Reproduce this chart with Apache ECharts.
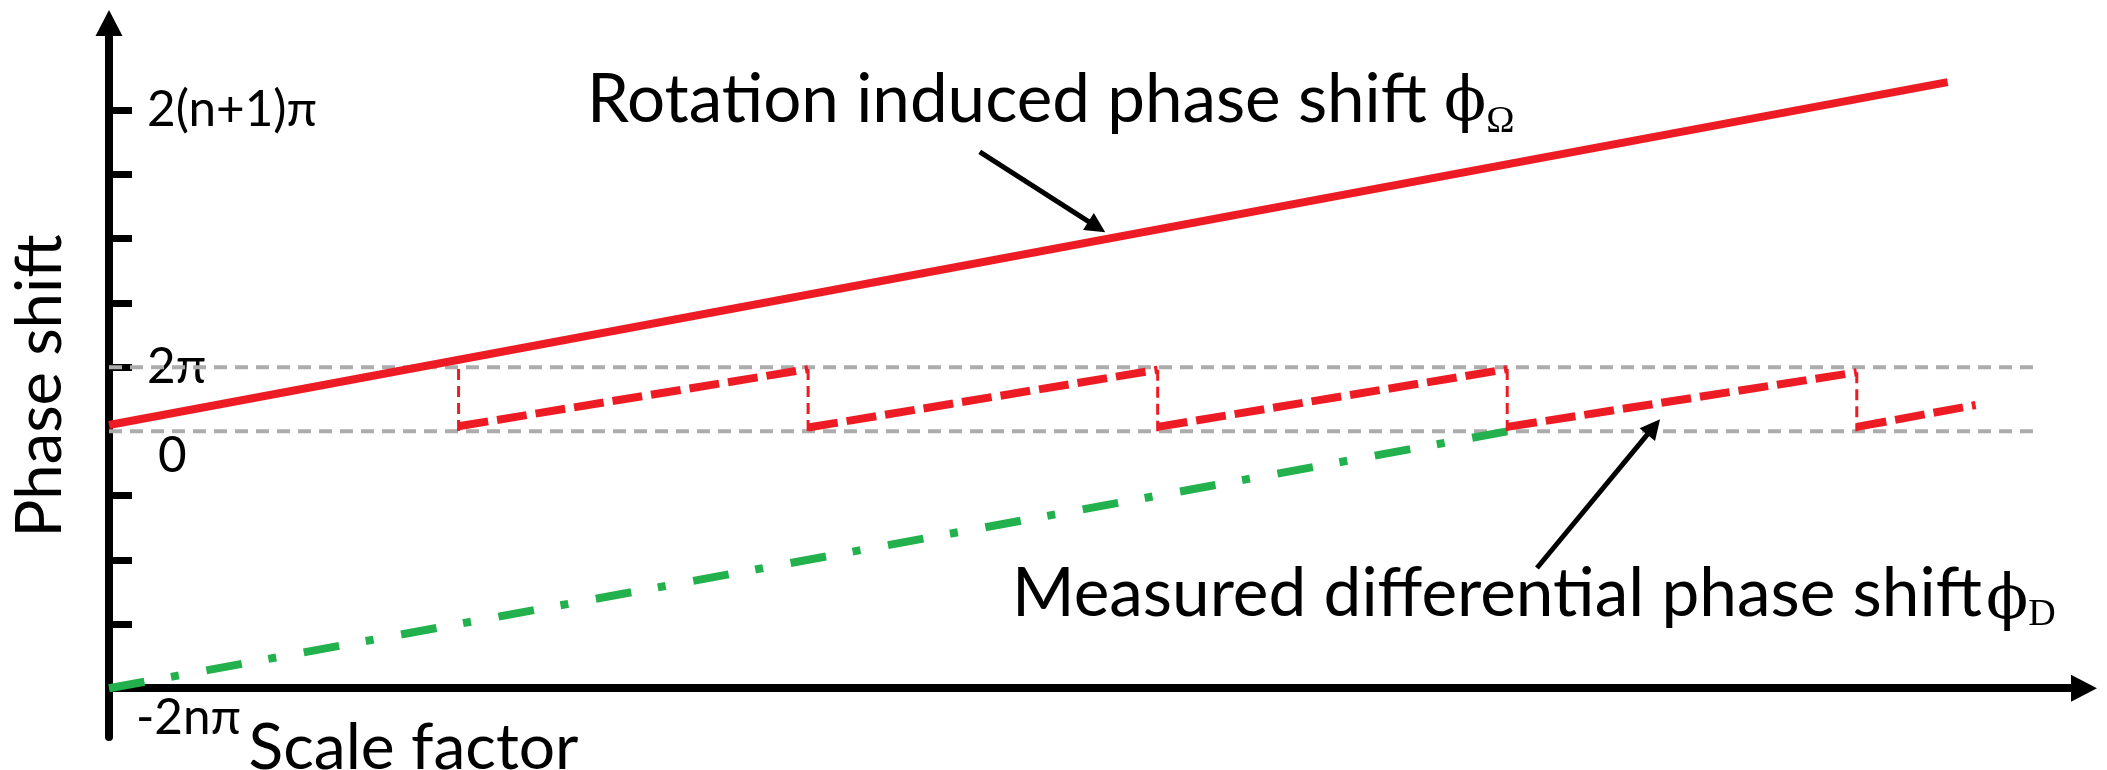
<!DOCTYPE html>
<html>
<head>
<meta charset="utf-8">
<script src="https://cdn.jsdelivr.net/npm/echarts@6/dist/echarts.min.js"></script>
<style>html,body{margin:0;padding:0;background:#fff}#c{width:2107px;height:770px}</style>
</head>
<body>
<div id="c"></div>
<script>
// ---------- data (schematic units) ----------
const rotX = [0, 5.26];                 // rotation induced phase shift (solid red)
const rotY = [4.10, 9.44];
const sawX0 = [1, 2, 3, 4, 5];          // measured differential phase (dashed red) segment starts
const sawY0 = [4.08, 4.06, 4.07, 4.07, 4.07];
const sawX1 = [2, 3, 4, 5, 5.34];       // segment ends
const sawY1 = [4.97, 4.96, 4.97, 4.92, 4.41];
const dropX = [1, 2, 3, 4, 5];          // 2π wraps (thin dashed red)
const dropTop = [4.97, 4.97, 4.96, 4.97, 4.92];
const dropBottom = [4.0, 4.0, 4.0, 4.0, 4.0];
const diffX = [0, 4];                   // green dash-dot line
const diffY = [0, 4];
const refLevels = [4, 5];               // 0 and 2π reference levels
const refX = [0, 5.52];
const yTickValues = [1, 2, 3, 5, 6, 7, 8, 9];
const yLabelValues = [0, 4, 5, 9];
const yLabelText = ['-2nπ', '0', '2π', '2(n+1)π'];
const arrowRot = [[2.491, 8.352], [2.826, 7.184]];
const arrowMeas = [[4.085, 1.872], [4.419, 4.069]];
const yName = 'Phase shift';
const xName = 'Scale factor';
const rotText = 'Rotation induced phase shift';
const measText = 'Measured differential phase shift';

// ---------- styling ----------
const FONT = "Lato, 'DejaVu Sans', sans-serif";
const RED = '#ed1c24', GREEN = '#22b14c', GRAY = '#acacac';
const ctx = document.createElement('canvas').getContext('2d');
function fit(text, family, target) { ctx.font = '100px ' + family; return 100 * target / ctx.measureText(text).width; }
const fRot = fit(rotText, FONT, 840);
const fMeas = fit(measText, FONT, 970);
const fYName = fit(yName, FONT, 303);
const fXName = fit(xName, FONT, 330);
const fTick = fit('2(n+1)π', FONT, 170);

const series = [];
refLevels.forEach(v => series.push({
  type: 'line', z: 1, symbol: 'none', silent: true,
  data: refX.map(x => [x, v]),
  lineStyle: { color: GRAY, width: 4, type: [13, 8] }
}));
series.push({
  type: 'line', z: 2, symbol: 'none', silent: true,
  data: diffX.map((x, i) => [x, diffY[i]]),
  lineStyle: { color: GREEN, width: 8, type: [36, 27, 8, 28] }
});
dropX.forEach((x, i) => series.push({
  type: 'line', z: 3, symbol: 'none', silent: true,
  data: [[x, dropTop[i]], [x, dropBottom[i]]],
  lineStyle: { color: RED, width: 3, type: [11, 6] }
}));
sawX0.forEach((x, i) => series.push({
  type: 'line', z: 3, symbol: 'none', silent: true,
  data: [[x, sawY0[i]], [sawX1[i], sawY1[i]]],
  lineStyle: { color: RED, width: 8, type: [30, 9] }
}));
series.push({
  type: 'line', z: 4, symbol: 'none', silent: true,
  data: rotX.map((x, i) => [x, rotY[i]]),
  lineStyle: { color: RED, width: 8 },
  markLine: {
    silent: true, symbol: ['none', 'triangle'], symbolSize: 20,
    lineStyle: { color: '#000', width: 5, type: 'solid' },
    label: { show: false }, emphasis: { disabled: true },
    data: [
      [{ coord: arrowRot[0] }, { coord: arrowRot[1] }],
      [{ coord: arrowMeas[0] }, { coord: arrowMeas[1] }]
    ]
  }
});

const option = {
  animation: false,
  backgroundColor: '#fff',
  grid: { left: 109, right: 23, top: 23, bottom: 33, containLabel: false, outerBoundsMode: 'none' },
  xAxis: {
    type: 'value', min: 0, max: 5.65,
    name: xName, nameLocation: 'middle', nameGap: -21, nameMoveOverlap: false,
    nameTextStyle: { fontFamily: FONT, fontSize: fXName, color: '#000', padding: [0, 1366, 0, 0] },
    axisLine: { show: true, onZero: true, symbol: ['none', 'triangle'], symbolSize: [27, 26],
      lineStyle: { color: '#000', width: 8 } },
    axisTick: { show: false }, axisLabel: { show: false }, splitLine: { show: false }
  },
  yAxis: {
    type: 'value', min: -0.76, max: 10.36,
    name: yName, nameLocation: 'middle', nameGap: 37, nameMoveOverlap: false,
    nameTextStyle: { fontFamily: FONT, fontSize: fYName, color: '#000', padding: [0, 12, 0, 0] },
    axisLine: { show: true, onZero: true, symbol: ['none', 'triangle'], symbolSize: [27, 26],
      lineStyle: { color: '#000', width: 8 } },
    axisTick: { show: true, inside: true, length: 23, customValues: yTickValues,
      lineStyle: { color: '#000', width: 7 } },
    axisLabel: {
      show: true, inside: true, margin: 27, customValues: yLabelValues,
      fontFamily: FONT, fontSize: fTick, color: '#000',
      formatter: v => {
        const i = yLabelValues.indexOf(v);
        const t = i >= 0 ? yLabelText[i] : '';
        if (v === 0) return '{b|' + t + '}';
        if (v === 4) return '{z|' + t + '}';
        return '{a|' + t + '}';
      },
      rich: {
        a: { fontFamily: FONT, fontSize: fTick, color: '#000', padding: [0, 0, 0, 11] },
        z: { fontFamily: FONT, fontSize: fTick, color: '#000', padding: [50, 0, 0, 22] },
        b: { fontFamily: FONT, fontSize: fTick, color: '#000', padding: [60, 0, 0, 0] }
      }
    },
    splitLine: { show: false }
  },
  graphic: [
    {
      type: 'text', x: 587, y: 100, silent: true,
      style: {
        text: rotText + ' {phi|ϕ}{sub|Ω}', fill: '#000', fontFamily: FONT, fontSize: fRot,
        align: 'left', verticalAlign: 'middle',
        rich: {
          phi: { fontFamily: "'DejaVu Serif', 'Liberation Serif', serif", fontSize: 62, fill: '#000', padding: [8, 0, 0, 0] },
          sub: { fontFamily: "'Liberation Serif', serif", fontSize: 38, fill: '#000', padding: [44, 0, 0, 0] }
        }
      }
    },
    {
      type: 'text', x: 1012, y: 594, silent: true,
      style: {
        text: measText + '{phi|ϕ}{sub|D}', fill: '#000', fontFamily: FONT, fontSize: fMeas,
        align: 'left', verticalAlign: 'middle',
        rich: {
          phi: { fontFamily: "'DejaVu Serif', 'Liberation Serif', serif", fontSize: 62, fill: '#000', padding: [16, 0, 0, 4] },
          sub: { fontFamily: "'Liberation Serif', serif", fontSize: 38, fill: '#000', padding: [42, 0, 0, 0] }
        }
      }
    }
  ],
  series: series
};
const chart = echarts.init(document.getElementById('c'), null, { renderer: 'canvas' });
chart.setOption(option);
</script>
</body>
</html>
